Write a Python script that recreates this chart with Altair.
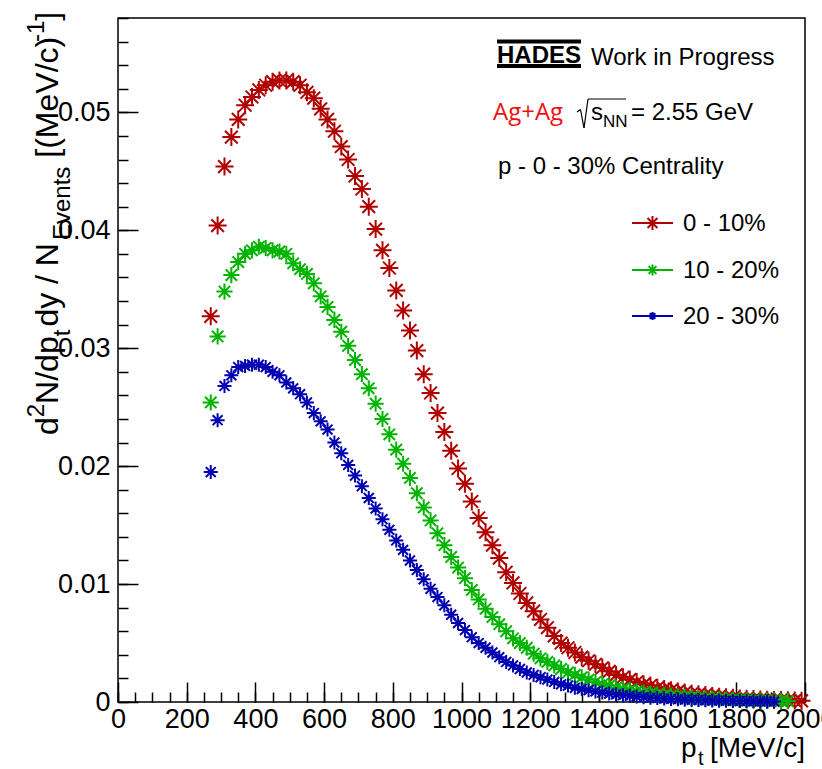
import altair as alt
import pandas as pd

# ---------------- data ----------------
pt_start = 270   # MeV/c, centre of first bin
pt_step = 20     # MeV/c, bin width

red_0_10 = [
    0.0327, 0.0404, 0.0454, 0.0479, 0.0494, 0.0506, 0.0513, 0.0519, 0.0523, 0.0526,
    0.0527, 0.0527, 0.0526, 0.0523, 0.0517, 0.0512, 0.0503, 0.0494, 0.0484, 0.0471,
    0.0460, 0.0446, 0.0435, 0.0420, 0.0401, 0.0383, 0.0368, 0.0349, 0.0332, 0.0315,
    0.0298, 0.0278, 0.0262, 0.0245, 0.0229, 0.0213, 0.0198, 0.0185, 0.0170, 0.0156,
    0.0144, 0.0133, 0.0122, 0.0110, 0.0101, 0.0092, 0.0084, 0.0077, 0.0070, 0.0063,
    0.0056, 0.0050, 0.0046, 0.0042, 0.0038, 0.0035, 0.0032, 0.0029, 0.0026, 0.0023,
    0.0021, 0.0019, 0.0017, 0.0015, 0.0014, 0.0012, 0.0011, 0.0010, 0.0009, 0.0008,
    0.0007, 0.00065, 0.0006, 0.0005, 0.00045, 0.0004, 0.00035, 0.0003, 0.00028, 0.00025,
    0.00022, 0.0002, 0.00018, 0.00016, 0.00014, 0.00012, 0.0001,
]
green_10_20 = [
    0.0254, 0.0310, 0.0348, 0.0362, 0.0373, 0.0380, 0.0383, 0.0386, 0.0385, 0.0383,
    0.0382, 0.0380, 0.0372, 0.0367, 0.0363, 0.0355, 0.0344, 0.0335, 0.0324, 0.0314,
    0.0302, 0.0290, 0.0278, 0.0266, 0.0253, 0.0240, 0.0227, 0.0214, 0.0202, 0.0190,
    0.0177, 0.0165, 0.0154, 0.0143, 0.0133, 0.0123, 0.0114, 0.0105, 0.0095, 0.0087,
    0.0079, 0.0072, 0.0066, 0.0060, 0.0054, 0.0050, 0.0046, 0.0041, 0.0037, 0.0034,
    0.0031, 0.0028, 0.0025, 0.0023, 0.0021, 0.0019, 0.0017, 0.0015, 0.0014, 0.0012,
    0.0011, 0.0010, 0.0009, 0.0008, 0.00072, 0.00065, 0.00058, 0.00052, 0.00046, 0.00041,
    0.00037, 0.00033, 0.0003, 0.00027, 0.00024, 0.00021, 0.00019, 0.00017, 0.00015, 0.00013,
    0.00012, 0.00011, 0.0001, 0.00009, 0.00008,
]
blue_20_30 = [
    0.0195, 0.0239, 0.0268, 0.0277, 0.0284, 0.0285, 0.0286, 0.0286, 0.0284, 0.0280,
    0.0277, 0.0271, 0.0266, 0.0261, 0.0254, 0.0245, 0.0238, 0.0231, 0.0220, 0.0211,
    0.0201, 0.0192, 0.0183, 0.0173, 0.0164, 0.0155, 0.0146, 0.0137, 0.0129, 0.0120,
    0.0112, 0.0104, 0.0096, 0.0089, 0.0082, 0.0074, 0.0067, 0.0061, 0.0055, 0.0050,
    0.0046, 0.0042, 0.0038, 0.0034, 0.0031, 0.0028, 0.0025, 0.0023, 0.0021, 0.0019,
    0.0017, 0.0015, 0.0014, 0.0012, 0.0011, 0.0010, 0.0009, 0.0008, 0.00072, 0.00065,
    0.00058, 0.00052, 0.00046, 0.00041, 0.00037, 0.00033, 0.00029, 0.00026, 0.00023, 0.0002,
    0.00018, 0.00016, 0.00014, 0.00012, 0.00011, 0.0001, 0.00009, 0.00008, 0.00007, 0.00006,
    0.00005, 0.00005, 0.00004,
]

series_names = ["0 - 10%", "10 - 20%", "20 - 30%"]
series_colors = ["#b00000", "#00b400", "#0000b0"]
marker_sizes = [324, 196, 121]
legend_marker_sizes = [196, 121, 64]

x_ticks = list(range(0, 2001, 200))
x_minor = list(range(0, 2001, 50))
y_ticks = [0, 0.01, 0.02, 0.03, 0.04, 0.05]
y_minor = [round(i * 0.002, 3) for i in range(0, 30)]

rows = []
for name, vals in zip(series_names, [red_0_10, green_10_20, blue_20_30]):
    for k, v in enumerate(vals):
        rows.append({"pt": pt_start + pt_step * k, "dn": v, "series": name})
df = pd.DataFrame(rows)

# ---------------- styling ----------------
FONT = "Liberation Sans"
STAR = "M-1,0L1,0M0,-1L0,1M-0.7071,-0.7071L0.7071,0.7071M-0.7071,0.7071L0.7071,-0.7071"
OX, OY = 118, 18          # plot origin on the canvas
W, H = 687, 684

xscale = alt.Scale(domain=[0, 2000], nice=False, zero=False)
yscale = alt.Scale(domain=[0, 0.058], nice=False, zero=False)
color = alt.Color("series:N", scale=alt.Scale(domain=series_names, range=series_colors), legend=None)

x_axis_major = alt.Axis(
    orient="bottom", values=x_ticks, format="d", offset=-20, tickSize=20, tickWidth=1.5,
    tickColor="black", domain=False, grid=False, labelFont=FONT, labelFontSize=27,
    labelColor="black", labelPadding=4, labelOverlap=False, labelFlush=False, title=None,
)
y_axis_major = alt.Axis(
    orient="left", values=y_ticks, offset=-20, tickSize=20, tickWidth=1.5,
    tickColor="black", domain=False, grid=False, labelFont=FONT, labelFontSize=27,
    labelColor="black", labelPadding=8, labelOverlap=False, labelFlush=False, title=None,
    labelExpr="datum.value == 0 ? '0' : format(datum.value, '.2f')",
)
x_axis_minor = alt.Axis(
    orient="bottom", values=x_minor, offset=-10, tickSize=10, tickWidth=1.5,
    tickColor="black", domain=False, grid=False, labels=False, title=None,
)
y_axis_minor = alt.Axis(
    orient="left", values=y_minor, offset=-10, tickSize=10, tickWidth=1.5,
    tickColor="black", domain=False, grid=False, labels=False, title=None,
)

points = alt.Chart(df).mark_point(shape=STAR, filled=False, strokeWidth=2, opacity=1).encode(
    x=alt.X("pt:Q", scale=xscale, axis=x_axis_major),
    y=alt.Y("dn:Q", scale=yscale, axis=y_axis_major),
    color=color,
    size=alt.Size("series:O", scale=alt.Scale(domain=series_names, range=marker_sizes), legend=None),
)
minor = alt.Chart(df).mark_point(opacity=0).encode(
    x=alt.X("pt:Q", scale=xscale, axis=x_axis_minor),
    y=alt.Y("dn:Q", scale=yscale, axis=y_axis_minor),
)

one = pd.DataFrame({"k": [0]})


def label(text, x, y, size=24, color="black", align="left", baseline="alphabetic",
          angle=0, font=FONT, weight="normal"):
    kw = dict(text=text, align=align, baseline=baseline, fontSize=size, font=font,
              color=color, fontWeight=weight)
    if angle:
        kw["angle"] = angle
    return alt.Chart(one).mark_text(**kw).encode(x=alt.value(x - OX), y=alt.value(y - OY))


def seg(x1, y1, x2, y2, color="black", width=1.5):
    return alt.Chart(one).mark_rule(color=color, strokeWidth=width).encode(
        x=alt.value(x1 - OX), y=alt.value(y1 - OY), x2=alt.value(x2 - OX), y2=alt.value(y2 - OY)
    )


deco = []
# HADES logo + header
deco += [
    seg(497, 41.5, 581, 41.5, width=4),
    seg(497, 66, 581, 66, width=4),
    label("HADES", 539, 62.5, size=24, align="center", weight="bold"),
    label("Work in Progress", 591, 65, size=24),
    label("Ag+Ag", 493, 120, size=24, color="#ee1111", font="Open Sans"),
    seg(577, 112, 580.5, 109.5, width=1.2),
    seg(580.5, 109.5, 584, 128, width=1.2),
    seg(584, 128, 588, 99, width=1.2),
    seg(588, 99, 626, 99, width=1.2),
    label("s", 591, 120, size=24),
    label("NN", 603, 127, size=17),
    label("= 2.55 GeV", 631, 120, size=24),
    label("p - 0 - 30% Centrality", 498, 174, size=24),
]
# legend
for name, c, s, yy in zip(series_names, series_colors, legend_marker_sizes, [223, 270, 316]):
    deco += [
        seg(632, yy, 673, yy, color=c, width=2),
        alt.Chart(one).mark_point(shape=STAR, filled=False, strokeWidth=2, color=c, size=s, opacity=1)
        .encode(x=alt.value(652.5 - OX), y=alt.value(yy - OY)),
        label(name, 683, yy + 1, size=24, baseline="middle"),
    ]
# x-axis title: p_t [MeV/c]
deco += [
    label("p", 681, 757, size=28),
    label("t", 698, 765, size=20),
    label("[MeV/c]", 805, 757, size=28, align="right"),
]
# y-axis title: d^2N/dp_t dy / N_Events [(MeV/c)^-1]
MB, SB, PB = 58, 70, 44
deco += [
    label("d", MB, 435, size=32, angle=270),
    label("2", PB, 417.2, size=24, angle=270),
    label("N/dp", MB, 403.9, size=32, angle=270),
    label("t", SB, 336.3, size=24, angle=270),
    label("dy / N", MB, 326.6, size=32, angle=270),
    label("Events", SB, 240.0, size=24, angle=270),
    label("[(MeV/c)", MB, 157.7, size=32, angle=270),
    label("-1", PB, 42.1, size=24, angle=270),
    label("]", MB, 20.8, size=32, angle=270),
]

chart = (
    alt.layer(minor, points, *deco)
    .resolve_axis(x="independent", y="independent")
    .properties(
        width=W, height=H,
        padding={"left": OX, "top": OY, "right": 822 - OX - W, "bottom": 769 - OY - H},
        autosize=alt.AutoSizeParams(type="none"),
        background="white",
    )
    .configure_view(stroke="black", strokeWidth=1.5)
)

chart.save("out.html", embed_options={"renderer": "svg", "actions": False})
